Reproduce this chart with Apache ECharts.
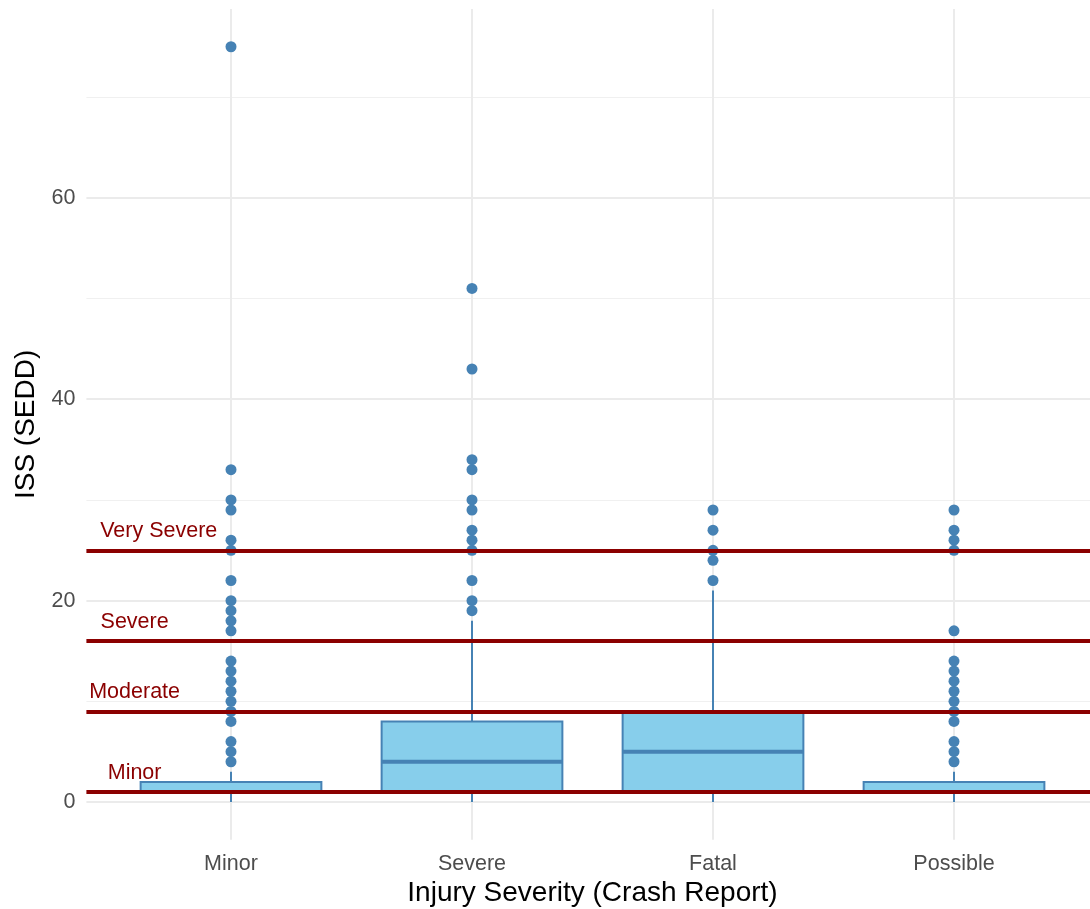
<!DOCTYPE html>
<html>
<head>
<meta charset="utf-8">
<script src="https://cdn.jsdelivr.net/npm/echarts@6/dist/echarts.min.js"></script>
<style>
html, body { margin: 0; padding: 0; background: #ffffff; }
#chart { width: 1090px; height: 909px; }
</style>
</head>
<body>
<div id="chart"></div>
<script>
// ---- Data ----
const categories = ['Minor', 'Severe', 'Fatal', 'Possible'];
const boxMin    = [0, 0, 0, 0];
const boxQ1     = [1, 1, 1, 1];
const boxMedian = [1, 4, 5, 1];
const boxQ3     = [2, 8, 9, 2];
const boxMax    = [3, 18, 21, 3];

const outliersMinor    = [4, 5, 6, 8, 9, 10, 11, 12, 13, 14, 17, 18, 19, 20, 22, 25, 26, 29, 30, 33, 75];
const outliersSevere   = [19, 20, 22, 25, 26, 27, 29, 30, 33, 34, 43, 51];
const outliersFatal    = [22, 24, 25, 27, 29];
const outliersPossible = [4, 5, 6, 8, 9, 10, 11, 12, 13, 14, 17, 25, 26, 27, 29];

const thresholdValues = [1, 9, 16, 25];
const thresholdNames  = ['Minor', 'Moderate', 'Severe', 'Very Severe'];
const thresholdLabelX = [0.6, 0.6, 0.6, 0.7];

const yMajorTicks = [0, 20, 40, 60];
const yMinorTicks = [10, 30, 50, 70];
const xTicks = [1, 2, 3, 4];

// ---- Build series data ----
const boxData = categories.map((c, i) => [i + 1, boxMin[i], boxQ1[i], boxMedian[i], boxQ3[i], boxMax[i]]);
const outlierData = [];
[outliersMinor, outliersSevere, outliersFatal, outliersPossible].forEach((arr, i) => {
  arr.forEach(v => outlierData.push([i + 1, v]));
});
const labelData = thresholdValues.map((v, i) => ({
  value: [thresholdLabelX[i], v + 1.9],
  label: { formatter: thresholdNames[i] }
}));

const FONT = 'Liberation Sans, Arial, sans-serif';
const chart = echarts.init(document.getElementById('chart'), null, { renderer: 'canvas' });

chart.setOption({
  animation: false,
  backgroundColor: '#ffffff',
  textStyle: { fontFamily: FONT },
  grid: {
    left: 86.4, right: -8.6, top: 9, bottom: 69.2,
    containLabel: false,
    outerBoundsMode: 'none'
  },
  xAxis: {
    type: 'value',
    min: 0.4, max: 4.6,
    name: 'Injury Severity (Crash Report)',
    nameLocation: 'middle',
    nameGap: 39,
    nameTextStyle: { fontSize: 28, color: '#000000', fontFamily: FONT },
    axisLine: { show: false },
    axisTick: { show: false, customValues: xTicks },
    axisLabel: {
      customValues: xTicks,
      formatter: v => categories[Math.round(v) - 1] || '',
      fontSize: 21.5, color: '#4d4d4d', margin: 13, fontFamily: FONT
    },
    splitLine: { show: true, lineStyle: { color: '#ebebeb', width: 2 } }
  },
  yAxis: [{
    type: 'value',
    min: -3.75, max: 78.75,
    name: 'ISS (SEDD)',
    nameLocation: 'middle',
    nameGap: 40,
    nameTextStyle: { fontSize: 28, color: '#000000', fontFamily: FONT },
    axisLine: { show: false },
    axisTick: { show: false, customValues: yMajorTicks },
    axisLabel: {
      customValues: yMajorTicks,
      fontSize: 21.5, color: '#4d4d4d', margin: 11, fontFamily: FONT
    },
    splitLine: { show: true, lineStyle: { color: '#ebebeb', width: 2 } }
  }, {
    type: 'value',
    min: -3.75, max: 78.75,
    position: 'left',
    axisLine: { show: false },
    axisTick: { show: false, customValues: yMinorTicks },
    axisLabel: { show: false },
    splitLine: { show: true, lineStyle: { color: '#f0f0f0', width: 1.2 } }
  }],
  series: [{
    type: 'custom',
    z: 2,
    data: boxData,
    renderItem: function (params, api) {
      const x = api.value(0);
      const pMin = api.coord([x, api.value(1)]);
      const pQ1 = api.coord([x, api.value(2)]);
      const pMed = api.coord([x, api.value(3)]);
      const pQ3 = api.coord([x, api.value(4)]);
      const pMax = api.coord([x, api.value(5)]);
      const bw = api.size([1, 0])[0] * 0.75;
      const cx = pMed[0];
      const stroke = '#4682B4';
      return {
        type: 'group',
        children: [
          { type: 'line', shape: { x1: cx, y1: pMax[1], x2: cx, y2: pQ3[1] }, style: { stroke: stroke, lineWidth: 2 } },
          { type: 'line', shape: { x1: cx, y1: pQ1[1], x2: cx, y2: pMin[1] }, style: { stroke: stroke, lineWidth: 2 } },
          { type: 'rect', shape: { x: cx - bw / 2, y: pQ3[1], width: bw, height: pQ1[1] - pQ3[1] }, style: { fill: '#87CEEB', stroke: stroke, lineWidth: 2 } },
          { type: 'line', shape: { x1: cx - bw / 2, y1: pMed[1], x2: cx + bw / 2, y2: pMed[1] }, style: { stroke: stroke, lineWidth: 4 } }
        ]
      };
    }
  }, {
    type: 'scatter',
    z: 3,
    symbol: 'circle',
    symbolSize: 11,
    itemStyle: { color: '#4682B4', opacity: 1 },
    data: outlierData
  }, {
    type: 'scatter',
    z: 6,
    symbol: 'circle',
    symbolSize: 1,
    itemStyle: { color: 'rgba(0,0,0,0)', opacity: 1 },
    data: labelData,
    label: {
      show: true,
      position: 'inside',
      color: '#8B0000',
      fontSize: 21.5,
      fontFamily: FONT,
      textBorderWidth: 0
    },
    markLine: {
      silent: true,
      symbol: ['none', 'none'],
      z: 5,
      label: { show: false },
      lineStyle: { color: '#8B0000', width: 4, type: 'solid', opacity: 1 },
      data: thresholdValues.map(v => ({ yAxis: v }))
    }
  }]
});
</script>
</body>
</html>
